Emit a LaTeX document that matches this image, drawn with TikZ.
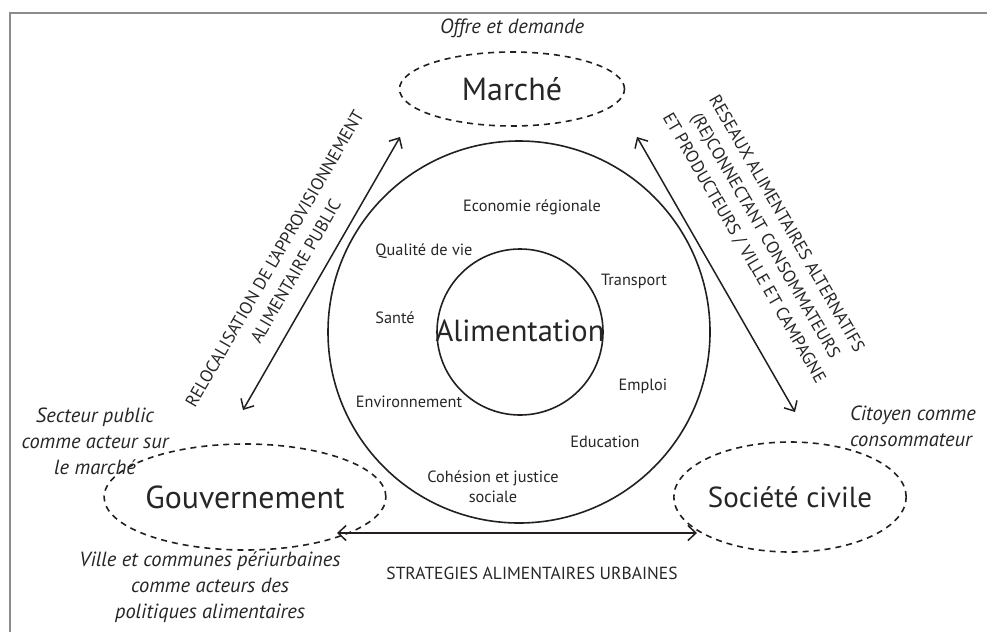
\documentclass[tikz,border=0pt]{standalone}
\usepackage{fontspec}
\setmainfont{PT Sans}
\usetikzlibrary{shapes.geometric,arrows.meta}
\definecolor{ink}{HTML}{231F20}
\definecolor{txtc}{HTML}{262626}
\definecolor{framec}{HTML}{8C8C8C}
\begin{document}
\begin{tikzpicture}[x=1pt,y=-1pt,
  lbl/.style={text=txtc, inner sep=0pt, font=\fontsize{16.3}{19}\selectfont},
  ital/.style={text=txtc, inner sep=0pt, align=center, font=\fontsize{20.5}{26}\selectfont\itshape},
  caps/.style={text=txtc, inner sep=0pt, align=center, font=\fontsize{17.5}{24.5}\selectfont},
  actor/.style={ellipse, draw=ink, line width=1.6pt, dash pattern=on 6pt off 5pt, inner sep=0pt, text=txtc},
  ring/.style={circle, draw=ink, line width=1.6pt, inner sep=0pt},
  link/.style={draw=ink, line width=1.5pt, {Straight Barb[length=8pt,width=15pt]}-{Straight Barb[length=8pt,width=15pt]}}
]
\useasboundingbox (0,0) rectangle (987,632);
% frame
\coordinate (f1) at (10,632);
\coordinate (f2) at (10,13);
\coordinate (f3) at (987,13);
\draw[framec, line width=1.5pt] (f1) -- (f2) -- (f3);

% circles
\node[ring, minimum size=382pt] (outer) at (519,332) {};
\node[ring, minimum size=166pt] (inner) at (520,332) {};
\node[text=txtc, inner sep=0pt, font=\fontsize{30.5}{34}\selectfont] (alim) at (520,331) {Alimentation};

% actors
\node[actor, minimum width=225pt, minimum height=74pt, font=\fontsize{32}{36}\selectfont] (marche) at (512,89) {Marché};
\node[actor, minimum width=214pt, minimum height=106pt, font=\fontsize{31.8}{36}\selectfont] (gouv) at (245,497) {Gouvernement};
\node[actor, minimum width=216pt, minimum height=110pt, font=\fontsize{29}{34}\selectfont] (soc) at (790,497) {Société civile};

% inner labels
\node[lbl] (eco) at (532,207) {Economie régionale};
\node[lbl] (qual) at (424,251) {Qualité de vie};
\node[lbl] (trans) at (634,281) {Transport};
\node[lbl] (sante) at (395,318) {Santé};
\node[lbl] (emploi) at (643,386) {Emploi};
\node[lbl] (env) at (409,402) {Environnement};
\node[lbl] (educ) at (605,442) {Education};
\node[lbl, align=center, font=\fontsize{16.3}{20}\selectfont] (coh) at (493,487) {Cohésion et justice\\sociale};

% italic annotations
\node[ital] (offre) at (512,28) {Offre et demande};
\node[ital] (secteur) at (95,441) {Secteur public\\comme acteur sur\\le marché};
\node[ital, align=left, anchor=west] (citoyen) at (850,426) {Citoyen comme\\consommateur};
\node[ital] (ville) at (210,587) {Ville et communes périurbaines\\comme acteurs des\\politiques alimentaires};

% arrows
\coordinate (a1) at (243,410);
\coordinate (a2) at (400,137);
\coordinate (b1) at (637,137);
\coordinate (b2) at (795,412);
\coordinate (c1) at (337,533);
\coordinate (c2) at (697,533);
\draw[link] (a1) -- (a2);
\draw[link] (b1) -- (b2);
\draw[link] (c1) -- (c2);

% arrow labels
\node[caps, rotate=60] (relo) at (285,265) {RELOCALISATION DE L'APPROVISIONNEMENT\\ALIMENTAIRE PUBLIC};
\node[caps, rotate=-60] (reseaux) at (765,236) {RESEAUX ALIMENTAIRES ALTERNATIFS\\(RE)CONNECTANT CONSOMMATEURS\\ET PRODUCTEURS / VILLE ET CAMPAGNE};
\node[caps] (strat) at (532,573) {STRATEGIES ALIMENTAIRES URBAINES};
\end{tikzpicture}
\end{document}
